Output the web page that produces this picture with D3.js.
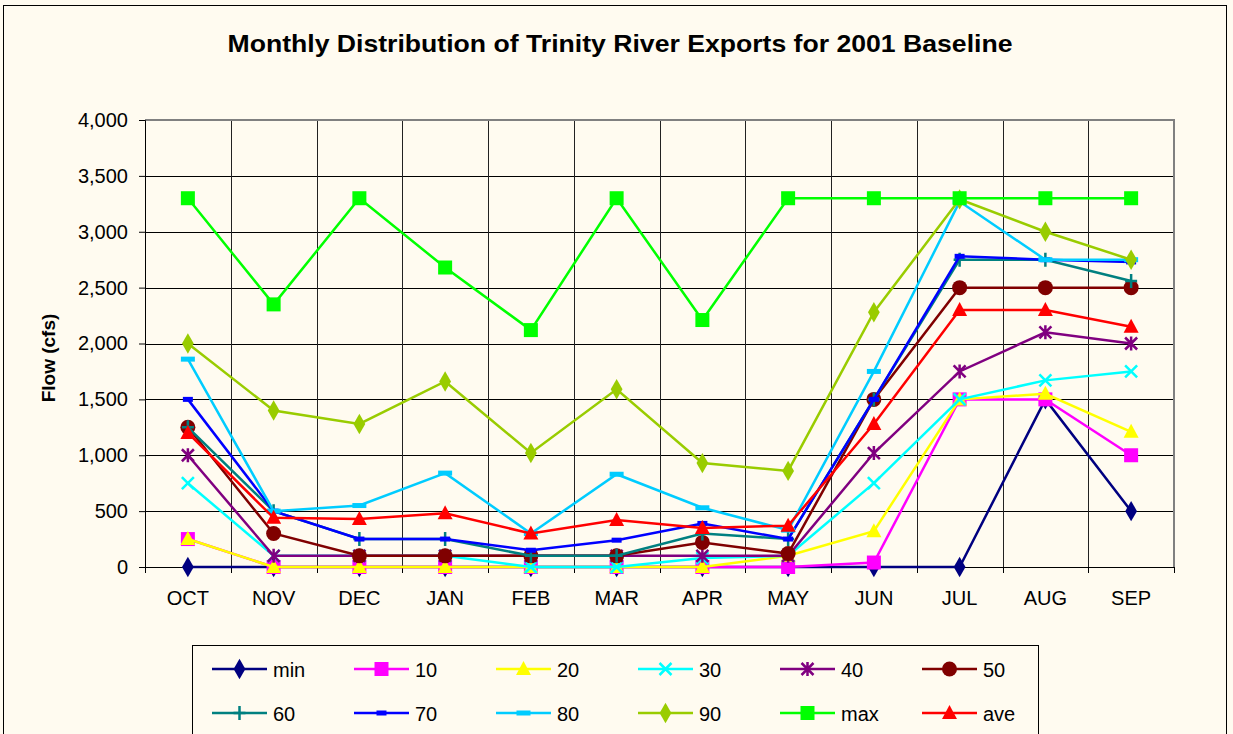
<!DOCTYPE html>
<html>
<head>
<meta charset="utf-8">
<script src="https://cdn.jsdelivr.net/npm/d3@7"></script>
<style>
  body { margin: 0; background: #fff; }
  svg { display: block; font-family: Arial, "Liberation Sans", sans-serif; }
</style>
</head>
<body>
<div id="chart"></div>
<script>
// months along the x axis
const months = ['OCT', 'NOV', 'DEC', 'JAN', 'FEB', 'MAR', 'APR', 'MAY', 'JUN', 'JUL', 'AUG', 'SEP'];
const yTicks = [0, 500, 1000, 1500, 2000, 2500, 3000, 3500, 4000];

// series values (cfs)
const minVals = [0, 0, 0, 0, 0, 0, 0, 0, 0, 0, 1500, 500];
const p10 = [250, 0, 0, 0, 0, 0, 0, 0, 40, 1500, 1500, 1000];
const p20 = [250, 0, 0, 0, 0, 0, 0, 100, 320, 1500, 1550, 1210];
const p30 = [750, 100, 100, 100, 0, 0, 80, 100, 750, 1500, 1670, 1750];
const p40 = [1000, 100, 100, 100, 100, 100, 100, 100, 1020, 1750, 2100, 2000];
const p50 = [1250, 300, 100, 100, 100, 100, 220, 120, 1500, 2500, 2500, 2500];
const p60 = [1250, 500, 250, 250, 100, 100, 300, 250, 1500, 2750, 2750, 2560];
const p70 = [1500, 500, 250, 250, 150, 240, 390, 250, 1500, 2780, 2750, 2730];
const p80 = [1860, 500, 550, 840, 300, 830, 530, 330, 1750, 3270, 2750, 2750];
const p90 = [2000, 1400, 1280, 1660, 1020, 1590, 930, 860, 2280, 3290, 3000, 2750];
const maxVals = [3300, 2350, 3300, 2680, 2120, 3300, 2210, 3300, 3300, 3300, 3300, 3300];
const aveVals = [1200, 440, 430, 480, 300, 420, 350, 370, 1280, 2300, 2300, 2150];

const seriesNames = ['min', '10', '20', '30', '40', '50', '60', '70', '80', '90', 'max', 'ave'];
const seriesData = [minVals, p10, p20, p30, p40, p50, p60, p70, p80, p90, maxVals, aveVals];
const seriesColors = ['#000080', '#FF00FF', '#FFFF00', '#00FFFF', '#800080', '#800000',
  '#008080', '#0000FF', '#00CCFF', '#99CC00', '#00FF00', '#FF0000'];
const seriesMarkers = ['diamond', 'square', 'triangle', 'x', 'star', 'circle',
  'plus', 'dashSmall', 'dash', 'diamond', 'square', 'triangle'];

const W = 1233;
const H = 734;
const bg = '#FFFBF0';
const font = 'Arial, "Liberation Sans", sans-serif';

const svg = d3.select('#chart').append('svg')
  .attr('width', W)
  .attr('height', H);

svg.append('rect').attr('width', W).attr('height', H).attr('fill', bg);
// outer chart frame
svg.append('rect')
  .attr('x', 3.5).attr('y', 5.5)
  .attr('width', W - 10).attr('height', H)
  .attr('fill', 'none').attr('stroke', '#000').attr('stroke-width', 1);

const plot = { left: 145, right: 1174, top: 120, bottom: 567 };

const x = d3.scaleBand().domain(months).range([plot.left, plot.right]);
const y = d3.scaleLinear().domain([0, 4000]).range([plot.bottom, plot.top]);
const cx = (m) => x(m) + x.bandwidth() / 2;

// gridlines
const grid = svg.append('g');
grid.selectAll('.hg').data(yTicks.slice(1, -1)).enter().append('line')
  .attr('x1', plot.left).attr('x2', plot.right)
  .attr('y1', (d) => Math.round(y(d)) + 0.5).attr('y2', (d) => Math.round(y(d)) + 0.5)
  .attr('stroke', '#000').attr('stroke-width', 1);
grid.selectAll('.vg').data(months.slice(1)).enter().append('line')
  .attr('x1', (d) => Math.round(x(d)) + 0.5).attr('x2', (d) => Math.round(x(d)) + 0.5)
  .attr('y1', plot.top).attr('y2', plot.bottom)
  .attr('stroke', '#222').attr('stroke-width', 1);

// top / right border of plot area
svg.append('path')
  .attr('d', `M${plot.left},${plot.top}H${plot.right}V${plot.bottom}`)
  .attr('fill', 'none').attr('stroke', '#808080').attr('stroke-width', 2);

// y axis
const yAxis = svg.append('g')
  .attr('transform', `translate(${plot.left},0)`)
  .call(d3.axisLeft(y).tickValues(yTicks).tickSize(6).tickPadding(11)
    .tickFormat(d3.format(',')));
yAxis.select('.domain').attr('stroke', '#000');
yAxis.selectAll('text').attr('font-size', 20).attr('fill', '#000')
  .attr('font-family', font);

// x axis
const xAxis = svg.append('g')
  .attr('transform', `translate(0,${plot.bottom})`)
  .call(d3.axisBottom(x).tickSize(0).tickPadding(24));
xAxis.select('.domain').attr('stroke', '#000');
xAxis.selectAll('text').attr('font-size', 20).attr('fill', '#000')
  .attr('font-family', font);
// tick marks at category boundaries
svg.append('g').selectAll('line').data(months.concat(['end'])).enter().append('line')
  .attr('x1', (d, i) => Math.round(plot.left + i * x.bandwidth()) + 0.5)
  .attr('x2', (d, i) => Math.round(plot.left + i * x.bandwidth()) + 0.5)
  .attr('y1', plot.bottom).attr('y2', plot.bottom + 6)
  .attr('stroke', '#000');

// titles
svg.append('text')
  .attr('x', 620).attr('y', 52)
  .attr('text-anchor', 'middle')
  .attr('font-size', 24).attr('font-weight', 'bold')
  .attr('textLength', 785).attr('lengthAdjust', 'spacingAndGlyphs')
  .text('Monthly Distribution of Trinity River Exports for 2001 Baseline');

svg.append('text')
  .attr('transform', 'translate(55,358) rotate(-90)')
  .attr('text-anchor', 'middle')
  .attr('font-size', 19).attr('font-weight', 'bold')
  .text('Flow (cfs)');

// marker drawing
const drawMarker = (g, type, color) => {
  switch (type) {
    case 'diamond':
      g.append('path').attr('d', d3.symbol(d3.symbolDiamond, 120)()).attr('fill', color);
      break;
    case 'square':
      g.append('rect').attr('x', -7).attr('y', -7).attr('width', 14).attr('height', 14)
        .attr('fill', color);
      break;
    case 'triangle':
      g.append('path').attr('d', 'M0,-8L7.5,6L-7.5,6Z').attr('fill', color);
      break;
    case 'circle':
      g.append('circle').attr('r', 7.5).attr('fill', color);
      break;
    case 'x':
      g.append('path').attr('d', 'M-6,-6L6,6M-6,6L6,-6').attr('stroke', color).attr('stroke-width', 2.5);
      break;
    case 'star':
      g.append('path').attr('d', 'M-6,-6L6,6M-6,6L6,-6M0,-7V7').attr('stroke', color).attr('stroke-width', 2.5);
      break;
    case 'plus':
      g.append('path').attr('d', 'M-6,0H6M0,-7V7').attr('stroke', color).attr('stroke-width', 2.5);
      break;
    case 'dashSmall':
      g.append('rect').attr('x', -5).attr('y', -2.5).attr('width', 10).attr('height', 5).attr('fill', color);
      break;
    case 'dash':
      g.append('rect').attr('x', -7).attr('y', -2.5).attr('width', 14).attr('height', 5).attr('fill', color);
      break;
    default:
      break;
  }
};

const line = d3.line()
  .x((d, i) => cx(months[i]))
  .y((d) => y(d));

const seriesG = svg.append('g');
seriesData.forEach((vals, k) => {
  const g = seriesG.append('g');
  g.append('path')
    .datum(vals)
    .attr('d', line)
    .attr('fill', 'none')
    .attr('stroke', seriesColors[k])
    .attr('stroke-width', 2.5);
  vals.forEach((v, i) => {
    const mg = g.append('g').attr('transform', `translate(${cx(months[i])},${y(v)})`);
    drawMarker(mg, seriesMarkers[k], seriesColors[k]);
  });
});

// legend
const legend = svg.append('g');
legend.append('rect')
  .attr('x', 192.5).attr('y', 645.5)
  .attr('width', 846).attr('height', 100)
  .attr('fill', bg).attr('stroke', '#000').attr('stroke-width', 1);

seriesNames.forEach((name, k) => {
  const col = k % 6;
  const row = Math.floor(k / 6);
  const lx = 212 + col * 142;
  const ly = 669 + row * 44;
  const g = legend.append('g');
  g.append('line')
    .attr('x1', lx).attr('x2', lx + 55)
    .attr('y1', ly).attr('y2', ly)
    .attr('stroke', seriesColors[k]).attr('stroke-width', 2.5);
  const mg = g.append('g').attr('transform', `translate(${lx + 27.5},${ly})`);
  drawMarker(mg, seriesMarkers[k], seriesColors[k]);
  g.append('text')
    .attr('x', lx + 61).attr('y', ly + 8)
    .attr('font-size', 20)
    .text(name);
});
</script>
</body>
</html>
